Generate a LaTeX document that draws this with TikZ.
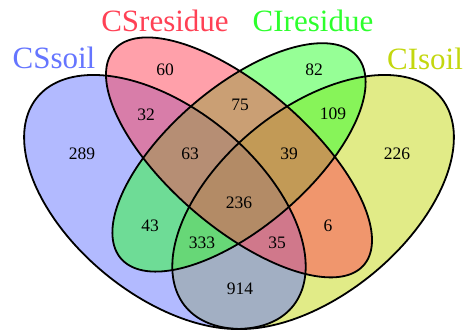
\documentclass[tikz,border=0pt]{standalone}
\usepackage{fontspec}
\setmainfont{Liberation Serif}
\definecolor{cblue}{RGB}{101,117,255}
\definecolor{cred}{RGB}{255,65,85}
\definecolor{cgreen}{RGB}{45,255,45}
\definecolor{cyellow}{RGB}{195,215,15}
\tikzset{
  vennfill/.style={fill=#1, fill opacity=0.5, draw=none},
  venndraw/.style={draw=black, line width=1.8pt},
  num/.style={font=\rmfamily\fontsize{17.5}{17.5}\selectfont, text=black, inner sep=0pt},
  setlabel/.style={font=\rmfamily\fontsize{31}{31}\selectfont, text=#1, inner sep=0pt},
}
% #1 options, #2 cu, #3 cv, #4 a, #5 b, #6 angle
\newcommand\vennpath[6]{%
  \path[#1] plot[domain=0:360,samples=181,variable=\t]
    ({#2+#4*cos(\t)*cos(#6)-#5*sin(\t)*sin(#6)},
     {#3+#4*cos(\t)*sin(#6)+#5*sin(\t)*cos(#6)}) -- cycle;}
\begin{document}
\begin{tikzpicture}[x=1pt,y=1pt]
\useasboundingbox (0,0) rectangle (468,332);
\begin{scope}[x=494pt, y=445.6pt, shift={(-8pt,-79.4pt)}]
  \vennpath{vennfill=cyellow}{0.65}{0.47}{0.35}{0.20}{45}
  \vennpath{vennfill=cblue}{0.35}{0.47}{0.35}{0.20}{135}
  \vennpath{vennfill=cgreen}{0.50}{0.57}{0.33}{0.15}{45}
  \vennpath{vennfill=cred}{0.50}{0.57}{0.35}{0.15}{135}
  \vennpath{venndraw}{0.65}{0.47}{0.35}{0.20}{45}
  \vennpath{venndraw}{0.35}{0.47}{0.35}{0.20}{135}
  \vennpath{venndraw}{0.50}{0.57}{0.33}{0.15}{45}
  \vennpath{venndraw}{0.50}{0.57}{0.35}{0.15}{135}
\end{scope}
\node[num] (n60)  at (165,262) {60};
\node[num] (n82)  at (314,262) {82};
\node[num] (n289) at (82,178) {289};
\node[num] (n226) at (397,178) {226};
\node[num] (n32)  at (146,217) {32};
\node[num] (n75)  at (240,227) {75};
\node[num] (n109) at (333,218) {109};
\node[num] (n63)  at (190,178) {63};
\node[num] (n39)  at (289,178) {39};
\node[num] (n236) at (239,129) {236};
\node[num] (n43)  at (150,106) {43};
\node[num] (n333) at (202,89) {333};
\node[num] (n35)  at (277,89) {35};
\node[num] (n6)   at (328,106) {6};
\node[num] (n914) at (240,43) {914};
\node[setlabel=cblue]   (lcss) at (54,274) {CSsoil};
\node[setlabel=cred]    (lcsr) at (165,311) {CSresidue};
\node[setlabel=cgreen]  (lcir) at (313,311) {CIresidue};
\node[setlabel=cyellow] (lcis) at (425,273) {CIsoil};
\end{tikzpicture}
\end{document}
